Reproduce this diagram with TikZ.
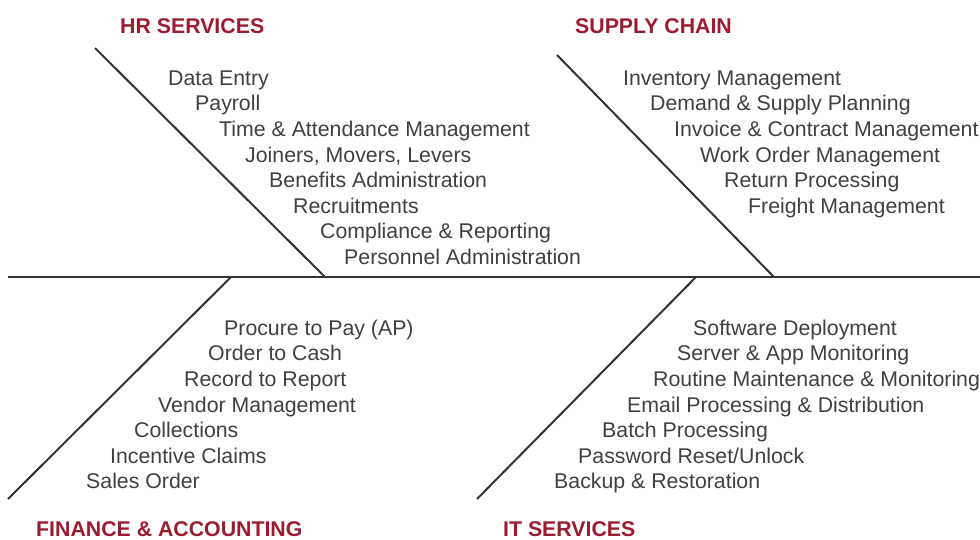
\documentclass[tikz,border=0pt]{standalone}
\usepackage{fontspec}
\setmainfont{Liberation Sans}
\definecolor{txt}{HTML}{404040}
\definecolor{ttl}{HTML}{9B1C31}
\definecolor{bone}{HTML}{333333}
\begin{document}
\begin{tikzpicture}[x=1pt,y=-1pt,
  item/.style={anchor=base west,inner sep=0pt,text=txt,font=\fontsize{21.3}{25}\selectfont},
  title/.style={anchor=base west,inner sep=0pt,text=ttl,font=\fontsize{21.3}{25}\selectfont\bfseries},
  boneline/.style={draw=bone,line width=2pt}]
\useasboundingbox (0,0) rectangle (980,539);
% spine and bones
\coordinate (sL) at (8,277);
\coordinate (sR) at (980,277);
\coordinate (hrT) at (95,48);
\coordinate (hrB) at (325,277);
\coordinate (scT) at (557,55);
\coordinate (scB) at (774,277);
\coordinate (faT) at (231,277);
\coordinate (faB) at (8,499);
\coordinate (itT) at (696,277);
\coordinate (itB) at (477,499);
\draw[boneline] (sL) -- (sR);
\draw[boneline] (hrT) -- (hrB);
\draw[boneline] (scT) -- (scB);
\draw[boneline] (faT) -- (faB);
\draw[boneline] (itT) -- (itB);
% titles
\node[title] (thr) at (120,33) {HR SERVICES};
\node[title] (tsc) at (575,33) {SUPPLY CHAIN};
\node[title] (tfa) at (36,536) {FINANCE \& ACCOUNTING};
\node[title] (tit) at (503,536) {IT SERVICES};
% HR items
\node[item] (h1) at (168,85) {Data Entry};
\node[item] (h2) at (195,110.5) {Payroll};
\node[item] (h3) at (219,136) {Time \& Attendance Management};
\node[item] (h4) at (245,162) {Joiners, Movers, Levers};
\node[item] (h5) at (269,187) {Benefits Administration};
\node[item] (h6) at (293,213) {Recruitments};
\node[item] (h7) at (320,238) {Compliance \& Reporting};
\node[item] (h8) at (344,264) {Personnel Administration};
% Supply chain items
\node[item] (s1) at (623,85) {Inventory Management};
\node[item] (s2) at (650,110.5) {Demand \& Supply Planning};
\node[item] (s3) at (674,136) {Invoice \& Contract Management};
\node[item] (s4) at (700,162) {Work Order Management};
\node[item] (s5) at (724,187) {Return Processing};
\node[item] (s6) at (748,213) {Freight Management};
% Finance items
\node[item] (f1) at (224,335) {Procure to Pay (AP)};
\node[item] (f2) at (208,360) {Order to Cash};
\node[item] (f3) at (184,386) {Record to Report};
\node[item] (f4) at (158,412) {Vendor Management};
\node[item] (f5) at (134,437) {Collections};
\node[item] (f6) at (110,463) {Incentive Claims};
\node[item] (f7) at (86,488) {Sales Order};
% IT items
\node[item] (i1) at (693,335) {Software Deployment};
\node[item] (i2) at (677,360) {Server \& App Monitoring};
\node[item] (i3) at (653,386) {Routine Maintenance \& Monitoring};
\node[item] (i4) at (627,412) {Email Processing \& Distribution};
\node[item] (i5) at (602,437) {Batch Processing};
\node[item] (i6) at (578,463) {Password Reset/Unlock};
\node[item] (i7) at (554,488) {Backup \& Restoration};
\end{tikzpicture}
\end{document}
